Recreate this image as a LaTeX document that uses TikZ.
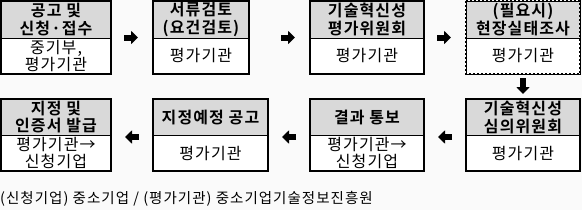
\documentclass[tikz,border=0pt]{standalone}
\usepackage{fontspec}
\setmainfont{Noto Sans CJK KR}[BoldFont={* Bold}, LetterSpace=7]
\usetikzlibrary{arrows.meta,calc}
\definecolor{hdrgray}{HTML}{D9D9D9}
\definecolor{bggray}{HTML}{FAFAFA}
\tikzset{
 hdr/.style={fill=hdrgray, draw=black, line width=1pt, inner sep=0pt, outer sep=0pt, align=center, font=\fontsize{16}{17.5}\selectfont\bfseries, anchor=north west},
 bodybox/.style={fill=white, draw=black, line width=1pt, inner sep=0pt, outer sep=0pt, align=center, font=\fontsize{16}{17.5}\selectfont, anchor=north},
 frame/.style={draw=black, line width=2pt},
 dotframe/.style={draw=black, line width=2pt, dash pattern=on 2pt off 2pt},
 blockarr/.style={line width=6pt, -{Triangle[width=13pt,length=7pt]}},
 note/.style={font=\fontsize{14.5}{16}\selectfont, anchor=west, inner sep=0pt},
}
% name, x1, x2, ytop, ysep, ybot, header, body, framestyle
\newcommand\flowbox[9]{%
 \node[hdr, minimum width=#3-#2, minimum height=#5-#4] (h#1) at (#2,#4) {#7};
 \node[bodybox, minimum width=#3-#2, minimum height=#6-#5] (b#1) at (h#1.south) {#8};
 \draw[#9] (h#1.north west) rectangle (b#1.south east);
 \coordinate (L#1) at ($(h#1.north west)!0.5!(b#1.south west)$);
 \coordinate (R#1) at ($(h#1.north east)!0.5!(b#1.south east)$);
}
\begin{document}
\begin{tikzpicture}[x=1pt,y=-1pt]
\fill[bggray] (0,0) rectangle (582,210);
\useasboundingbox (0,0) rectangle (582,210);
\flowbox{1}{1}{111}{1}{38}{74}{공고 및\\신청·접수}{중기부,\\평가기관}{frame}
\flowbox{2}{153}{249}{1}{38}{74}{서류검토\\(요건검토)}{평가기관}{frame}
\flowbox{3}{310}{424}{1}{38}{74}{기술혁신성\\평가위원회}{평가기관}{frame}
\flowbox{4}{466}{580}{1}{38}{74}{(필요시)\\현장실태조사}{평가기관}{dotframe}
\flowbox{5}{1}{111}{99}{135.5}{171}{지정 및\\인증서 발급}{평가기관→\\신청기업}{frame}
\flowbox{6}{153}{268}{99}{135.5}{171}{지정예정 공고}{평가기관}{frame}
\flowbox{7}{310}{424}{99}{135.5}{171}{결과 통보}{평가기관→\\신청기업}{frame}
\flowbox{8}{466}{580}{99}{135.5}{171}{기술혁신성\\심의위원회}{평가기관}{frame}
\draw[blockarr] ([xshift=-29pt]L2) -- ([xshift=-15pt]L2);
\draw[blockarr] ([xshift=-29pt]L3) -- ([xshift=-15pt]L3);
\draw[blockarr] ([xshift=-29pt]L4) -- ([xshift=-15pt]L4);
\draw[blockarr] ([yshift=-4pt]b4.south) -- ([yshift=5pt]h8.north);
\draw[blockarr] ([xshift=28pt,yshift=-2pt]R7) -- ([xshift=14pt,yshift=-2pt]R7);
\draw[blockarr] ([xshift=28pt,yshift=-2pt]R6) -- ([xshift=14pt,yshift=-2pt]R6);
\draw[blockarr] ([xshift=28pt,yshift=-2pt]R5) -- ([xshift=14pt,yshift=-2pt]R5);
\node[note] (n) at (0,199) {(신청기업) 중소기업 / (평가기관) 중소기업기술정보진흥원};
\end{tikzpicture}
\end{document}
